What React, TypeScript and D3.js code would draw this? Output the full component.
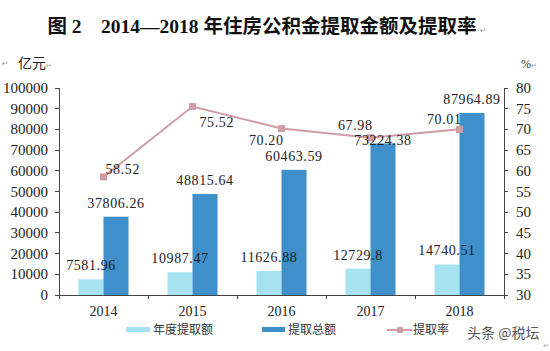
import React from 'react';
import * as d3 from 'd3';

const years = ['2014', '2015', '2016', '2017', '2018'];
const annualDraw = [7581.96, 10987.47, 11626.88, 12729.8, 14740.51];
const totalDraw = [37806.26, 48815.64, 60463.59, 73224.38, 87964.89];
const drawRate = [58.52, 75.52, 70.2, 67.98, 70.01];
const annualLabels = ['7581.96', '10987.47', '11626.88', '12729.8', '14740.51'];
const totalLabels = ['37806.26', '48815.64', '60463.59', '73224.38', '87964.89'];
const rateLabels = ['58.52', '75.52', '70.20', '67.98', '70.01'];
const leftTicks = [0, 10000, 20000, 30000, 40000, 50000, 60000, 70000, 80000, 90000, 100000];
const rightTicks = [30, 35, 40, 45, 50, 55, 60, 65, 70, 75, 80];

// label nudges, Excel style
const rateLabelPos = [
  { dx: 2, dy: -3, anchor: 'start' },
  { dx: 7, dy: 20, anchor: 'start' },
  { dx: 2, dy: 16, anchor: 'end' },
  { dx: 2, dy: -8, anchor: 'end' },
  { dx: 2, dy: -5, anchor: 'end' },
];
const totalLabelDy = [-9, -9, -9, 2, -9];

const LIGHT = '#a6e2f0';
const DARK = '#3e8fca';
const LINE = '#d09ca5';
const NUM_FONT = '"Liberation Serif", "Times New Roman", serif';
const CJK_FONT = '"Liberation Serif", "Noto Sans CJK SC", serif';

export default function App() {
  const width = 550;
  const height = 351;
  const left = 59;
  const right = 504;
  const top = 88;
  const bottom = 295;

  const x = d3.scaleBand().domain(years).range([left, right]).paddingInner(0.438).paddingOuter(0.219);
  const half = x.bandwidth() / 2;
  const y = d3.scaleLinear().domain([0, 100000]).range([bottom, top]);
  const yr = d3.scaleLinear().domain([30, 80]).range([bottom, top]);

  const linePath = d3.line<number>()
    .x((_, i) => (x(years[i]) as number) + half)
    .y(d => yr(d))(drawRate) as string;

  const step = x.step();
  const boundaries = d3.range(years.length + 1).map(i => left + i * step);

  return (
    <svg width={width} height={height} style={{ position: 'absolute', left: 0, top: 0, background: '#fff' }}>
      <rect width={width} height={height} fill="#fff" />
      {/* title */}
      <text x={262} y={33} textAnchor="middle" fontFamily={CJK_FONT} fontWeight="bold" fontSize={19.5} fill="#111">
        图 2　2014—2018 年住房公积金提取金额及提取率
      </text>
      <text x={480} y={33} fontSize={8} fill="#999" fontFamily="DejaVu Sans">↵</text>

      {/* units */}
      <text x={2} y={66} fontSize={8} fill="#999" fontFamily="DejaVu Sans">↵</text>
      <text x={18} y={68} fontFamily='"Noto Sans CJK SC"' fontSize={14} fill="#222">亿元</text>
      <text x={46} y={68} fontSize={7} fill="#999" fontFamily="DejaVu Sans">↵</text>
      <text x={521} y={68} fontFamily={NUM_FONT} fontSize={12} fill="#333">%</text>
      <text x={531} y={68} fontSize={7} fill="#999" fontFamily="DejaVu Sans">↵</text>

      {/* axes */}
      <g stroke="#444" strokeWidth={1} fill="none" shapeRendering="crispEdges">
        <line x1={left} x2={left} y1={top} y2={bottom} />
        <line x1={right} x2={right} y1={top} y2={bottom} />
        <line x1={left} x2={right} y1={bottom} y2={bottom} />
        {leftTicks.map(t => <line key={'l' + t} x1={left - 4} x2={left} y1={y(t)} y2={y(t)} />)}
        {rightTicks.map(t => <line key={'r' + t} x1={right} x2={right + 4} y1={yr(t)} y2={yr(t)} />)}
        {boundaries.map((b, i) => <line key={'b' + i} x1={b} x2={b} y1={bottom} y2={bottom + 4} />)}
      </g>
      {leftTicks.map(t => (
        <text key={'lt' + t} x={48} y={y(t) + 5} textAnchor="end" fontFamily={NUM_FONT} fontSize={15} fill="#222">{t}</text>
      ))}
      {rightTicks.map(t => (
        <text key={'rt' + t} x={516} y={yr(t) + 5} fontFamily={NUM_FONT} fontSize={15} fill="#222">{t}</text>
      ))}
      {years.map(yv => (
        <text key={'x' + yv} x={(x(yv) as number) + half} y={316} textAnchor="middle" fontFamily={NUM_FONT} fontSize={14} fill="#222">{yv}</text>
      ))}

      {/* bars */}
      {years.map((yv, i) => {
        const x0 = x(yv) as number;
        return (
          <g key={'bar' + yv}>
            <rect x={x0} y={y(annualDraw[i])} width={half} height={bottom - y(annualDraw[i])} fill={LIGHT} />
            <rect x={x0 + half} y={y(totalDraw[i])} width={half} height={bottom - y(totalDraw[i])} fill={DARK} />
          </g>
        );
      })}

      {/* line */}
      <path d={linePath} fill="none" stroke={LINE} strokeWidth={2} />
      {drawRate.map((r, i) => (
        <rect key={'m' + i} x={(x(years[i]) as number) + half - 3.5} y={yr(r) - 3.5} width={7} height={7} fill={LINE} />
      ))}

      {/* labels */}
      {years.map((yv, i) => {
        const x0 = x(yv) as number;
        return (
          <g key={'lab' + yv} fontFamily={NUM_FONT} fontSize={14} fill="#222" letterSpacing={0.6}>
            <text x={x0 + half / 2} y={y(annualDraw[i]) - 9} textAnchor="middle">{annualLabels[i]}</text>
            <text x={x0 + half * 1.5} y={y(totalDraw[i]) + totalLabelDy[i]} textAnchor="middle">{totalLabels[i]}</text>
            <text x={x0 + half + rateLabelPos[i].dx} y={yr(drawRate[i]) + rateLabelPos[i].dy} textAnchor={rateLabelPos[i].anchor}>{rateLabels[i]}</text>
          </g>
        );
      })}

      {/* legend */}
      <g fontFamily='"Noto Sans CJK SC"' fontSize={12} fill="#333">
        <rect x={126} y={327} width={24} height={5} fill={LIGHT} />
        <text x={153} y={334}>年度提取额</text>
        <rect x={262} y={327} width={23} height={5} fill={DARK} />
        <text x={288} y={334}>提取总额</text>
        <line x1={387} x2={412} y1={330} y2={330} stroke={LINE} strokeWidth={2} />
        <rect x={397} y={327} width={6} height={6} fill={LINE} />
        <text x={413} y={334}>提取率</text>
      </g>
      <text x={467} y={338} fontFamily='"Noto Sans CJK SC"' fontSize={14} fill="#555">头条 @税坛</text>
      <text x={543} y={348} fontSize={7} fill="#999" fontFamily="DejaVu Sans">↵</text>
    </svg>
  );
}
